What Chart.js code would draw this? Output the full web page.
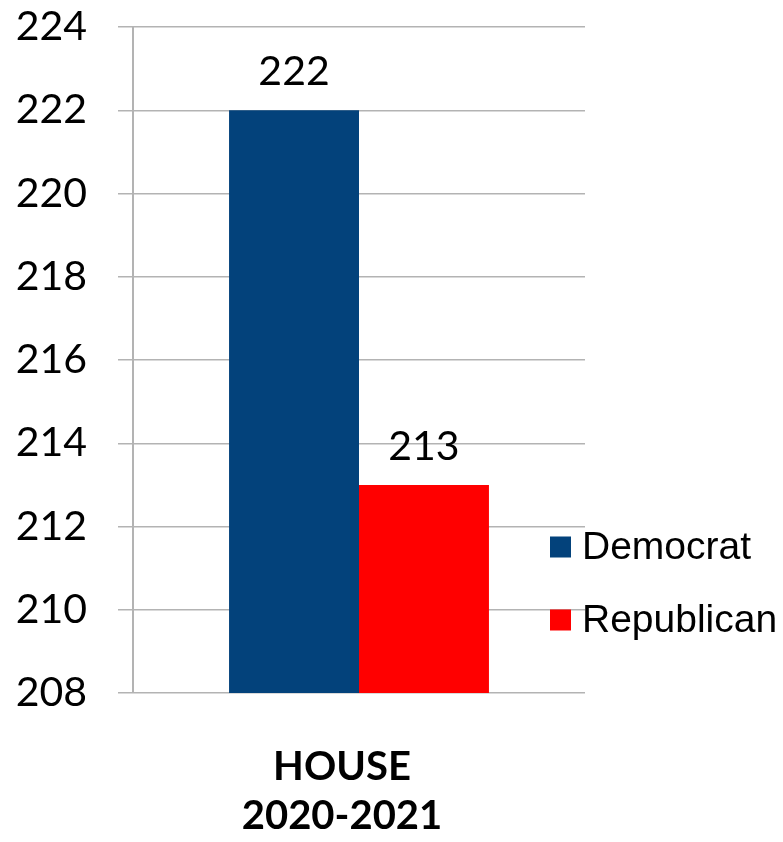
<!DOCTYPE html>
<html>
<head>
<meta charset="utf-8">
<script src="https://cdn.jsdelivr.net/npm/chart.js@4"></script>
<style>
  html, body { margin: 0; padding: 0; background: #fff; }
  canvas { display: block; }
</style>
</head>
<body>
<canvas id="houseChart" width="783" height="842"></canvas>
<script>
// Data
const categories = [['HOUSE', '2020-2021']];
const seriesNames = ['Democrat', 'Republican'];
const democratValues = [222];
const republicanValues = [213];
const seriesColors = ['#03427b', '#ff0000'];
const yMin = 208;
const yMax = 224;
const yStep = 2;

const gridColor = '#b3b3b3';
const tickFont = { family: 'Lato', size: 41 };

// Value labels on top of bars
const valueLabels = {
    id: 'valueLabels',
    afterDatasetsDraw(chart) {
        const { ctx } = chart;
        ctx.save();
        ctx.font = `${tickFont.size}px ${tickFont.family}`;
        ctx.fillStyle = '#000';
        ctx.textAlign = 'center';
        ctx.textBaseline = 'middle';
        chart.data.datasets.forEach((ds, i) => {
            chart.getDatasetMeta(i).data.forEach((bar, j) => {
                ctx.fillText(String(ds.data[j]), bar.x, bar.y - 38);
            });
        });
        ctx.restore();
    },
};

// Legend drawn over the right side of the plot
const sideLegend = {
    id: 'sideLegend',
    afterDraw(chart) {
        const { ctx } = chart;
        const startY = 547;
        const rowGap = 73;
        ctx.save();
        ctx.font = '39px "Liberation Sans", Arial, sans-serif';
        ctx.textBaseline = 'middle';
        ctx.textAlign = 'left';
        chart.data.datasets.forEach((ds, i) => {
            const cy = startY + i * rowGap;
            ctx.fillStyle = ds.backgroundColor;
            ctx.fillRect(550, cy - 10.5, 21, 21);
            ctx.fillStyle = '#000';
            ctx.fillText(ds.label, 582, cy + 1);
        });
        ctx.restore();
    },
};

const ctx = document.getElementById('houseChart').getContext('2d');

// eslint-disable-next-line no-new
new Chart(ctx, {
    type: 'bar',
    data: {
        labels: categories,
        datasets: [
            {
                label: seriesNames[0],
                data: democratValues,
                backgroundColor: seriesColors[0],
                borderWidth: 0,
            },
            {
                label: seriesNames[1],
                data: republicanValues,
                backgroundColor: seriesColors[1],
                borderWidth: 0,
            },
        ],
    },
    options: {
        responsive: false,
        animation: false,
        layout: {
            padding: { top: 0, right: 198, bottom: 0, left: 0 },
        },
        datasets: {
            bar: {
                categoryPercentage: 0.575,
                barPercentage: 1,
            },
        },
        plugins: {
            legend: { display: false },
            tooltip: { enabled: false },
        },
        scales: {
            x: {
                grid: { display: false },
                border: { display: false },
                ticks: {
                    color: '#000',
                    padding: 42,
                    labelOffset: -17,
                    font: { family: 'Lato', size: 40, weight: 'bold', lineHeight: 1.22 },
                },
                afterFit(scale) {
                    scale.height = 149;
                },
            },
            y: {
                min: yMin,
                max: yMax,
                grid: {
                    color: gridColor,
                    lineWidth: 1.5,
                    tickLength: 15,
                },
                border: { color: gridColor, width: 2 },
                ticks: {
                    stepSize: yStep,
                    color: '#000',
                    padding: 31,
                    font: tickFont,
                },
                afterFit(scale) {
                    scale.width = 133;
                    // tick padding would otherwise push the plot top down
                    scale.paddingTop = 27;
                    scale.paddingBottom = 0;
                },
            },
        },
    },
    plugins: [valueLabels, sideLegend],
});
</script>
</body>
</html>
